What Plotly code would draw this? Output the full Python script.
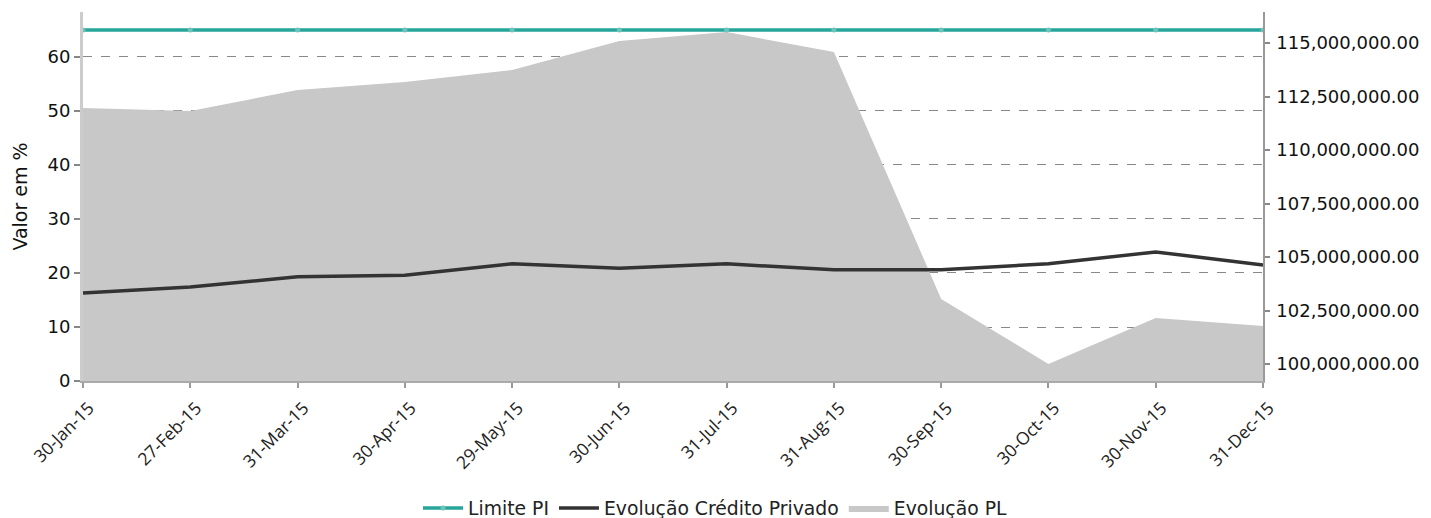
import plotly.graph_objects as go

dates = ["30-Jan-15", "27-Feb-15", "31-Mar-15", "30-Apr-15", "29-May-15", "30-Jun-15",
         "31-Jul-15", "31-Aug-15", "30-Sep-15", "30-Oct-15", "30-Nov-15", "31-Dec-15"]
limite_pi = [65] * 12
credito_privado = [16.3, 17.4, 19.3, 19.6, 21.7, 20.9, 21.7, 20.6, 20.6, 21.7, 23.9, 21.5]
evolucao_pl = [111960000, 111820000, 112800000, 113180000, 113740000, 115090000,
               115510000, 114580000, 103040000, 100000000, 102150000, 101780000]

font = "DejaVu Sans"

fig = go.Figure()
# area on primary axis (right side) so the line traces on the overlay draw above it
fig.add_trace(go.Scatter(
    x=dates, y=evolucao_pl, name="Evolução PL", yaxis="y",
    mode="lines", line=dict(color="#c8c8c8", width=0), fill="tozeroy",
    fillcolor="#c8c8c8", legendrank=3))
fig.add_trace(go.Scatter(
    x=dates, y=limite_pi, name="Limite PI", mode="lines+markers", yaxis="y2",
    line=dict(color="#26a69a", width=3.5),
    marker=dict(size=5, color="#6cc3ba"), legendrank=1))
fig.add_trace(go.Scatter(
    x=dates, y=credito_privado, name="Evolução Crédito Privado", mode="lines",
    yaxis="y2", line=dict(color="#333333", width=3.5), legendrank=2))

# page body has an 8px margin, so the figure is 8px smaller and shifted
fig.update_layout(
    width=1423, height=510,
    margin=dict(l=75, r=168, t=4, b=137, autoexpand=False),
    plot_bgcolor="white", paper_bgcolor="white",
    font=dict(family=font, size=18, color="#111"),
    showlegend=True,
    legend=dict(orientation="h", x=0.5356, xanchor="center", xref="paper",
                y=-0.345, yanchor="middle", font=dict(size=18.8, color="#222"),
                traceorder="normal", itemwidth=40),
    xaxis=dict(type="category", range=[0, 11], tickangle=-45,
               tickfont=dict(family="Open Sans", size=17.5, color="#222"),
               ticklabelshift=6, ticklabelstandoff=3,
               showline=True, linecolor="#aaaaaa", linewidth=2,
               ticks="outside", ticklen=5, tickcolor="#999", tickwidth=2,
               showgrid=False, zeroline=False, automargin=False),
    yaxis=dict(side="right", range=[99206000, 116450000],
               tick0=100000000, dtick=2500000, tickformat=",.2f",
               ticklabelstandoff=3,
               showline=True, linecolor="#999999", linewidth=1.5,
               ticks="outside", ticklen=5, tickcolor="#888", tickwidth=2,
               showgrid=False, zeroline=False, tickfont=dict(size=18),
               automargin=False),
    yaxis2=dict(overlaying="y", side="left", range=[0, 68.33], dtick=10, tick0=0,
                title=dict(text="Valor em %", font=dict(size=19)),
                showline=True, linecolor="#cccccc", linewidth=3,
                ticks="outside", ticklen=6, tickcolor="#888", tickwidth=2,
                showgrid=True, gridcolor="#888888", griddash="dash", gridwidth=1,
                zeroline=False, tickfont=dict(size=18), automargin=False),
)

fig.write_html("out.html")
